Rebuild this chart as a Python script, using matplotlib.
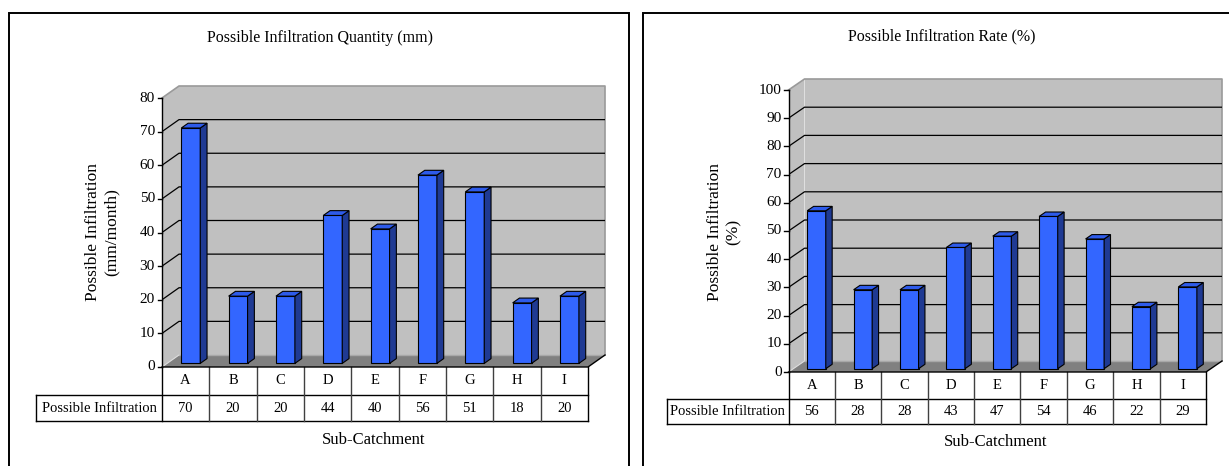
import matplotlib.pyplot as plt
import matplotlib.transforms as mtransforms
from matplotlib.patches import Polygon, Rectangle

categories = ["A", "B", "C", "D", "E", "F", "G", "H", "I"]
quantity_mm = [70, 20, 20, 44, 40, 56, 51, 18, 20]
rate_pct = [56, 28, 28, 43, 47, 54, 46, 22, 29]
row_header = "Possible Infiltration"

W, H = 1229, 466
plt.rcParams["font.family"] = ["Liberation Serif", "DejaVu Serif"]

fig = plt.figure(figsize=(W / 100, H / 100), dpi=100)


def fx(px):
    return px / W


def fy(py):
    return 1 - py / H


def draw_panel(vals, ymax, ystep, title, ylabel, axis_x, front_right, floor_y,
               ymax_y, depth, title_xy, ylabel_x, xlabel_xy, header_left, rows):
    n = len(vals)
    dx_px, dy_px = depth
    col_px = (front_right - axis_x) / n
    unit_px = (floor_y - ymax_y) / ymax
    dxc = dx_px / col_px
    dy = dy_px / unit_px

    ax = fig.add_axes([fx(axis_x), fy(floor_y),
                       (front_right + dx_px - axis_x) / W,
                       (floor_y - ymax_y + dy_px) / H])
    ax.set_xlim(0, n + dxc)
    ax.set_ylim(0, ymax + dy)
    ax.set_axis_off()

    # walls and floor
    ax.add_patch(Polygon([(0, 0), (dxc, dy), (dxc, ymax + dy), (0, ymax)],
                         fc="#C0C0C0", ec="none", zorder=0))
    ax.add_patch(Rectangle((dxc, dy), n, ymax, fc="#C0C0C0", ec="none", zorder=0))
    ax.add_patch(Polygon([(0, 0), (n, 0), (n + dxc, dy), (dxc, dy)],
                         fc="#808080", ec="none", zorder=1))
    ax.plot([0, dxc, n + dxc, n + dxc], [ymax, ymax + dy, ymax + dy, dy],
            color="#9A9A9A", lw=1.2, zorder=1, clip_on=False)
    ax.plot([dxc, n + dxc], [dy, dy], color="#A8A8A8", lw=1, zorder=1)
    ax.plot([0, dxc], [0, dy], color="#DDDDDD", lw=0.8, zorder=1)

    for v in range(ystep, ymax, ystep):
        ax.plot([0, dxc, n + dxc], [v, v + dy, v + dy], color="black", lw=0.9, zorder=1)

    # value axis
    tick = 0.09
    ax.plot([0, 0], [0, ymax], color="black", lw=1, zorder=4, clip_on=False)
    for v in range(0, ymax + 1, ystep):
        ax.plot([-tick, 0], [v, v], color="black", lw=1, clip_on=False)
        ax.text(-tick - 0.06, v, str(v), ha="right", va="center", fontsize=11)

    ax.plot([0, n, n + dxc], [0, 0, dy], color="black", lw=1, zorder=4, clip_on=False)

    # bars with depth
    z0, z1 = 0.3, 0.7
    bw = 0.4
    xs = [i + 0.5 + z0 * dxc for i in range(n)]
    ax.bar(xs, vals, width=bw, bottom=z0 * dy, color="#3366FF",
           edgecolor="black", lw=0.8, zorder=3)
    ddx, ddy = (z1 - z0) * dxc, (z1 - z0) * dy
    for x, v in zip(xs, vals):
        x0, x1 = x - bw / 2, x + bw / 2
        y0, y1 = z0 * dy, z0 * dy + v
        ax.add_patch(Polygon([(x1, y0), (x1 + ddx, y0 + ddy), (x1 + ddx, y1 + ddy), (x1, y1)],
                             fc="#1F3A93", ec="black", lw=0.8, zorder=3))
        ax.add_patch(Polygon([(x0, y1), (x1, y1), (x1 + ddx, y1 + ddy), (x0 + ddx, y1 + ddy)],
                             fc="#2E5BEA", ec="black", lw=0.8, zorder=3))

    # data table under the plot
    tr = mtransforms.blended_transform_factory(ax.transData, fig.transFigure)
    hx = (header_left - axis_x) / col_px
    r_mid, r_bot = rows
    kw = dict(transform=tr, clip_on=False, color="black", lw=1)
    ax.plot([0, 0], [fy(floor_y), fy(r_bot)], **kw)
    ax.plot([n, n], [fy(floor_y), fy(r_bot)], **kw)
    ax.plot([hx, hx], [fy(r_mid), fy(r_bot)], **kw)
    ax.plot([hx, n], [fy(r_mid), fy(r_mid)], **kw)
    ax.plot([hx, n], [fy(r_bot), fy(r_bot)], **kw)
    for i in range(1, n):
        ax.plot([i, i], [fy(floor_y), fy(r_bot)], transform=tr, clip_on=False,
                color="#404040", lw=1)
    for i, (c, v) in enumerate(zip(categories, vals)):
        ax.text(i + 0.5, fy((floor_y + r_mid) / 2), c, transform=tr,
                ha="center", va="center", fontsize=10.5)
        ax.text(i + 0.5, fy((r_mid + r_bot) / 2), str(v), transform=tr,
                ha="center", va="center", fontsize=10.5)
    ax.text(hx / 2, fy((r_mid + r_bot) / 2), row_header, transform=tr,
            ha="center", va="center", fontsize=10.5)

    fig.text(fx(title_xy[0]), fy(title_xy[1]), title, ha="center", va="center",
             fontsize=11.5)
    fig.text(fx(ylabel_x), fy(232), ylabel, ha="center", va="center",
             rotation=90, multialignment="center", fontsize=12.5, linespacing=1.2)
    fig.text(fx(xlabel_xy[0]), fy(xlabel_xy[1]), "Sub-Catchment", ha="center",
             va="center", fontsize=12)


draw_panel(quantity_mm, 80, 10, "Possible Infiltration Quantity (mm)",
           "Possible Infiltration\n(mm/month)",
           axis_x=162, front_right=588, floor_y=367, ymax_y=98, depth=(17, 12),
           title_xy=(320, 38), ylabel_x=102, xlabel_xy=(374, 440),
           header_left=36, rows=(395, 421))

draw_panel(rate_pct, 100, 10, "Possible Infiltration Rate (%)",
           "Possible Infiltration\n(%)",
           axis_x=788.5, front_right=1206, floor_y=372, ymax_y=90, depth=(16, 11),
           title_xy=(942, 36), ylabel_x=724, xlabel_xy=(996, 442),
           header_left=667, rows=(399, 424))

# chart area frames
fig.add_artist(Rectangle((fx(8.5), fy(500)), fx(629 - 8.5), (500 - 13) / H,
                         transform=fig.transFigure, fill=False, ec="black", lw=1.4))
fig.add_artist(Rectangle((fx(643), fy(500)), fx(1300 - 643), (500 - 13) / H,
                         transform=fig.transFigure, fill=False, ec="black", lw=1.4))

fig.savefig("out.png", dpi=100)
